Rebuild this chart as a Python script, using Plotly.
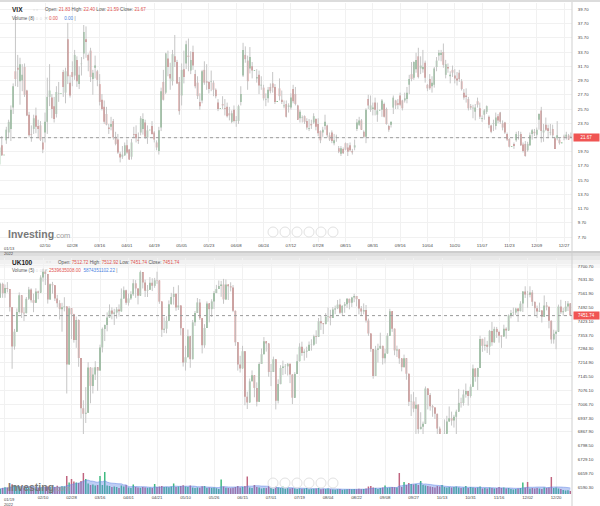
import pandas as pd
import plotly.graph_objects as go

# ---------------- VIX daily, every weekday 2022-01-13 .. 2022-12-30 ----------------
vix_open = [
    17.9, 20.6, 19.2, 21.3, 22.4, 22.9, 25.9, 31.0, 31.5, 29.6, 29.7, 31.6, 28.3,
    24.9, 22.2, 22.9, 24.8, 23.3, 23.4, 21.0, 22.4, 23.9, 27.4, 27.3, 26.1, 25.0, 27.8, 27.8, 30.9, 28.0, 35.5, 29.4, 30.9,
    30.4, 32.6, 29.2, 32.0, 33.5, 35.5, 33.3, 33.9, 29.9, 31.5, 31.0, 29.2, 27.0, 26.0, 25.0, 23.1, 23.2, 24.0, 21.8, 21.4, 19.4, 19.0, 19.2,
    20.6, 20.0, 19.0, 22.2, 22.2, 21.4, 22.4, 22.9, 23.8, 21.7, 22.7, 23.3, 22.4, 21.0, 19.8, 23.1, 29.5, 28.0, 32.8, 30.6, 29.6,
    33.1, 32.3, 29.5, 27.6, 31.3, 32.1, 33.2, 31.1, 33.7, 30.6, 29.4, 26.7, 26.9, 31.2, 29.6, 29.5, 29.5, 29.4, 28.4, 26.6, 25.7, 26.4,
    25.8, 26.0, 25.1, 23.9, 25.6, 24.0, 24.0, 26.7, 30.4, 33.3, 32.5, 31.4, 31.7, 31.1, 30.0, 30.5, 29.0, 28.7, 27.0, 27.2, 28.8, 29.3,
    28.8, 26.7, 28.6, 27.0, 26.1, 26.4, 26.0, 25.9, 28.5, 27.8, 26.2, 24.4, 24.5, 24.7, 24.0, 22.9, 23.6, 23.8, 24.3, 23.6, 22.6,
    22.4, 23.3, 23.4, 22.0, 22.4, 20.9, 21.7, 20.2, 19.4, 20.1, 20.9, 20.3, 20.6, 19.8, 20.3, 22.9, 23.5, 24.1, 22.5, 21.8, 27.1, 25.6, 25.7,
    26.6, 24.9, 25.5, 25.6, 26.4, 25.7, 23.3, 23.5, 25.9, 26.9, 26.5, 27.6, 26.9, 26.9, 27.1, 29.1, 30.6, 30.1, 31.3, 33.1, 31.4, 31.3,
    32.2, 29.1, 29.9, 28.9, 29.1, 31.6, 33.2, 33.3, 33.7, 30.5, 31.6, 30.3, 31.2, 30.4, 30.0, 30.8, 29.6, 28.0, 27.6, 27.1, 26.1,
    25.8, 25.3, 26.8, 25.8, 24.3, 24.9, 25.3, 24.6, 23.4, 23.6, 23.3, 24.7, 25.2, 23.7, 23.8, 22.2, 21.5, 20.4, 20.8, 21.3, 21.9, 22.2,
    20.7, 20.8, 19.9, 20.6, 22.2, 22.5, 22.1, 24.2, 25.5, 22.4, 23.5, 23.0, 22.4, 22.9, 21.6, 21.6, 21.4, 20.9, 21.8, 21.8, 22.0, 21.83,
]
vix_high = [
    20.9, 21.9, 19.2, 23.2, 24.2, 26.2, 29.3, 38.9, 33.3, 32.9, 32.0, 32.1, 28.4,
    25.3, 23.4, 24.9, 25.9, 24.2, 24.0, 21.6, 25.2, 30.1, 32.0, 27.8, 27.4, 28.9, 29.5, 27.8, 31.2, 31.5, 37.8, 30.5, 32.4,
    34.0, 33.1, 31.7, 33.0, 37.5, 37.3, 33.5, 34.3, 31.2, 33.2, 31.2, 30.6, 27.8, 26.9, 26.0, 23.6, 24.6, 24.3, 22.5, 22.2, 19.7, 20.5, 21.0,
    21.4, 20.1, 21.5, 23.2, 23.4, 22.4, 24.7, 25.1, 24.2, 23.4, 22.7, 24.0, 22.6, 21.3, 23.2, 28.7, 31.2, 33.6, 33.9, 32.2, 34.0,
    36.1, 32.6, 30.2, 32.1, 33.9, 35.3, 35.6, 33.8, 34.6, 31.2, 30.3, 27.9, 31.2, 32.4, 32.0, 29.6, 31.1, 29.7, 28.6, 27.1, 25.7, 27.5,
    27.1, 26.6, 26.0, 25.5, 26.2, 24.7, 26.3, 28.9, 35.0, 34.5, 33.2, 34.4, 32.3, 31.1, 31.3, 31.1, 30.3, 29.1, 27.9, 28.8, 29.3, 30.9,
    29.2, 26.7, 30.0, 28.3, 26.9, 26.9, 26.5, 27.9, 29.1, 28.8, 26.3, 25.6, 24.8, 24.8, 24.4, 24.3, 24.2, 25.1, 24.4, 24.4, 22.7,
    23.2, 24.9, 23.5, 22.4, 22.7, 22.2, 22.1, 20.5, 20.5, 20.3, 21.0, 20.9, 21.0, 20.1, 21.4, 24.3, 24.6, 24.3, 22.7, 25.8, 27.7, 27.6, 26.6,
    27.3, 26.6, 25.5, 27.1, 26.6, 25.9, 23.5, 23.9, 27.6, 27.0, 27.1, 28.0, 27.0, 28.0, 28.8, 30.5, 32.3, 32.4, 33.6, 34.3, 33.1, 34.0,
    32.5, 29.2, 30.6, 30.3, 31.6, 33.0, 34.0, 34.0, 34.9, 32.6, 32.1, 31.0, 31.8, 31.3, 30.9, 31.2, 29.9, 28.5, 28.6, 27.4, 26.4,
    26.3, 26.4, 27.3, 26.6, 24.8, 25.7, 26.2, 24.8, 23.5, 24.2, 25.2, 25.0, 25.3, 24.1, 23.9, 22.4, 21.6, 20.4, 21.0, 22.5, 22.6, 22.5,
    21.0, 21.2, 21.1, 22.4, 22.9, 22.9, 23.1, 25.1, 26.0, 23.6, 24.5, 23.5, 23.6, 23.5, 21.8, 24.0, 21.6, 20.9, 22.1, 22.5, 22.2, 22.40,
]
vix_low = [
    17.6, 19.1, 19.2, 20.8, 21.6, 21.2, 25.0, 28.9, 28.8, 26.3, 28.2, 27.4, 24.7,
    21.8, 21.1, 22.2, 22.3, 21.6, 21.2, 19.5, 21.0, 22.2, 26.1, 24.4, 23.8, 24.5, 26.7, 27.8, 27.4, 26.5, 29.2, 27.3, 28.9,
    29.8, 28.8, 28.5, 30.4, 32.7, 32.9, 31.0, 29.5, 27.7, 30.0, 28.9, 26.2, 25.5, 23.6, 23.4, 22.2, 22.7, 21.4, 20.6, 19.4, 18.2, 18.7, 19.1,
    19.4, 18.6, 18.6, 21.6, 21.0, 20.8, 22.0, 22.1, 21.5, 20.8, 22.7, 22.1, 21.0, 19.9, 19.3, 22.6, 26.9, 27.8, 30.3, 28.4, 29.0,
    31.6, 29.2, 24.9, 26.2, 29.3, 31.3, 31.0, 30.6, 31.2, 28.6, 27.1, 25.6, 26.5, 29.1, 28.4, 27.9, 28.2, 27.5, 27.2, 25.4, 25.7, 25.7,
    24.8, 24.5, 24.1, 23.7, 23.8, 23.2, 23.6, 26.2, 30.2, 32.2, 28.4, 30.7, 30.0, 31.1, 29.4, 27.8, 28.4, 26.9, 26.1, 26.6, 27.9, 28.0,
    26.4, 26.7, 26.9, 26.4, 25.8, 24.5, 25.2, 25.6, 26.5, 26.2, 24.2, 23.8, 23.8, 23.6, 22.8, 22.6, 22.9, 23.6, 22.7, 21.9, 20.9,
    21.8, 22.8, 21.7, 21.2, 20.9, 20.6, 21.1, 19.5, 19.1, 19.4, 19.9, 19.1, 19.7, 19.3, 19.9, 22.6, 23.3, 22.8, 21.6, 20.9, 25.7, 25.3, 24.8,
    24.8, 23.9, 25.5, 24.6, 24.5, 23.5, 22.5, 23.1, 25.0, 25.7, 25.7, 26.1, 25.5, 26.6, 26.5, 27.8, 29.6, 29.8, 30.8, 30.0, 30.6, 30.8,
    29.4, 28.2, 28.4, 28.0, 28.7, 31.0, 32.5, 32.4, 31.5, 30.0, 30.8, 29.3, 30.2, 29.3, 29.0, 29.5, 28.3, 27.0, 26.6, 25.5, 25.6,
    24.4, 24.1, 25.9, 24.3, 23.9, 24.2, 25.0, 23.0, 22.3, 22.6, 22.8, 23.7, 23.6, 22.7, 22.2, 21.2, 20.3, 20.4, 20.1, 21.1, 21.4, 20.5,
    19.6, 19.0, 19.7, 20.5, 21.4, 21.9, 21.8, 22.8, 21.0, 21.1, 22.6, 21.6, 22.0, 21.7, 20.1, 21.3, 20.7, 20.9, 21.3, 21.4, 21.4, 21.59,
]
vix_close = [
    20.3, 19.2, 19.2, 22.8, 23.9, 25.6, 28.9, 29.9, 31.2, 32.0, 30.5, 27.7, 24.8,
    22.0, 22.1, 24.4, 23.2, 22.9, 21.4, 20.0, 23.9, 27.4, 28.3, 25.7, 24.3, 28.1, 27.8, 27.8, 28.8, 31.0, 30.3, 27.6, 30.2,
    33.3, 29.6, 30.5, 32.0, 36.5, 35.1, 32.5, 30.2, 30.8, 31.8, 29.8, 26.7, 25.7, 23.9, 23.5, 22.9, 23.6, 21.7, 20.8, 19.6, 18.9, 19.3, 20.6,
    19.6, 18.6, 21.0, 22.1, 21.6, 21.2, 24.4, 24.3, 21.8, 22.7, 22.7, 22.2, 21.4, 20.3, 22.7, 28.2, 27.0, 33.5, 31.6, 30.0, 33.4,
    32.3, 29.3, 25.4, 31.2, 30.2, 34.8, 33.0, 32.6, 31.8, 28.9, 27.5, 26.1, 31.0, 29.4, 29.4, 28.5, 29.5, 28.4, 27.5, 25.7, 25.7, 26.2,
    25.7, 24.7, 24.8, 25.1, 24.0, 24.0, 26.1, 27.8, 34.0, 32.7, 29.6, 33.0, 31.1, 31.1, 30.2, 29.0, 29.1, 27.2, 27.0, 28.4, 28.2, 28.7,
    26.7, 26.7, 27.5, 26.7, 26.1, 24.6, 26.2, 27.3, 26.8, 26.4, 24.2, 25.3, 24.5, 23.9, 23.1, 23.0, 23.4, 24.7, 23.2, 22.3, 21.3,
    22.8, 23.9, 22.0, 21.4, 21.2, 21.3, 21.8, 19.7, 20.2, 19.5, 20.0, 19.7, 19.9, 19.6, 20.6, 23.8, 24.1, 22.8, 21.8, 25.6, 26.2, 26.2, 25.9,
    25.6, 25.5, 25.5, 26.9, 24.6, 23.6, 22.8, 23.9, 27.3, 26.2, 26.3, 26.3, 25.8, 27.2, 28.0, 29.9, 29.9, 32.3, 32.6, 30.2, 31.8, 31.6,
    30.1, 28.6, 28.6, 29.4, 31.4, 32.5, 33.6, 33.6, 31.9, 32.0, 31.4, 30.5, 30.8, 30.0, 29.7, 29.9, 28.5, 27.3, 27.4, 25.8, 25.9,
    25.8, 25.9, 26.3, 24.6, 24.4, 25.5, 26.1, 23.5, 22.5, 23.7, 24.5, 24.1, 23.9, 23.1, 22.4, 21.4, 20.4, 20.4, 20.5, 22.2, 21.9, 20.6,
    19.8, 19.1, 20.8, 22.0, 22.7, 22.3, 22.8, 25.0, 22.6, 22.7, 22.8, 22.6, 22.4, 22.0, 20.1, 22.0, 20.9, 20.9, 21.7, 22.1, 21.4, 21.67,
]
vix_tick_labels = ["01/13", "02/10", "02/28", "03/16", "04/01", "04/19", "05/05", "05/23", "06/08", "06/24",
                   "07/12", "07/28", "08/15", "08/31", "09/16", "10/04", "10/20", "11/07", "11/23", "12/09", "12/27"]
vix_y_ticks = [7.70, 9.70, 11.70, 13.70, 15.70, 17.70, 19.70, 21.70, 23.70, 25.70,
               27.70, 29.70, 31.70, 33.70, 35.70, 37.70, 39.70]

# ---------------- UK100 daily, LSE trading days 2022-01-17 .. 2022-12-30 ----------------
uk_holidays = ["2022-04-15", "2022-04-18", "2022-05-02", "2022-06-02", "2022-06-03",
               "2022-08-29", "2022-09-19", "2022-12-26", "2022-12-27"]
uk_open = [
    7543, 7611, 7564, 7590, 7585, 7494, 7297, 7371, 7470, 7554, 7466,
    7464, 7536, 7583, 7529, 7516, 7573, 7567, 7643, 7672, 7661, 7532, 7609, 7604, 7537, 7514, 7484, 7494, 7498, 7207, 7489,
    7458, 7330, 7430, 7239, 6987, 6959, 6964, 7191, 7099, 7156, 7193, 7176, 7292, 7385, 7405, 7442, 7477, 7461, 7467, 7483, 7473, 7537, 7579,
    7516, 7538, 7559, 7614, 7588, 7552, 7670, 7618, 7577, 7581, 7616, 7601, 7629, 7628, 7522, 7381, 7386, 7426, 7509,
    7545, 7561, 7493, 7503, 7388, 7217, 7243, 7348, 7233, 7418, 7465, 7518, 7438, 7303, 7390, 7513, 7484, 7523, 7565, 7585, 7600,
    7608, 7533, 7608, 7599, 7593, 7476, 7318, 7206, 7187, 7273, 7045, 7016, 7122, 7152, 7089, 7020, 7209, 7258, 7323, 7312,
    7169, 7169, 7233, 7025, 7108, 7189, 7196, 7197, 7210, 7156, 7040, 7159, 7223, 7296, 7264, 7271, 7276, 7306, 7306, 7348, 7345,
    7423, 7413, 7409, 7446, 7448, 7440, 7482, 7488, 7507, 7466, 7501, 7509, 7536, 7516, 7542, 7550, 7534, 7488, 7472, 7480, 7427, 7362,
    7284, 7149, 7281, 7287, 7300, 7238, 7262, 7351, 7473, 7386, 7277, 7282, 7237, 7193, 7238, 7160, 7019, 7021, 6985, 7005, 6882,
    6894, 6909, 7086, 7053, 6997, 6991, 6959, 6885, 6826, 6850, 6859, 6920, 6937, 6925, 6944, 6970, 7014, 7013, 7056, 7074, 7048,
    7095, 7186, 7144, 7189, 7335, 7300, 7306, 7296, 7375, 7318, 7385, 7369, 7351, 7347, 7386, 7377, 7453, 7465, 7467, 7487, 7474, 7512,
    7573, 7558, 7556, 7568, 7521, 7489, 7472, 7477, 7446, 7503, 7496, 7426, 7332, 7361, 7371, 7497, 7469, 7473, 7497, 7512.72,
]
uk_high = [
    7617, 7617, 7608, 7620, 7585, 7494, 7385, 7488, 7568, 7554, 7494,
    7545, 7596, 7589, 7562, 7589, 7577, 7654, 7687, 7680, 7661, 7613, 7621, 7604, 7556, 7529, 7516, 7544, 7498, 7499, 7489,
    7461, 7447, 7433, 7239, 7027, 7093, 7218, 7193, 7191, 7223, 7193, 7306, 7392, 7407, 7468, 7508, 7493, 7486, 7495, 7508, 7588, 7598, 7582,
    7563, 7574, 7634, 7630, 7588, 7678, 7670, 7632, 7605, 7645, 7639, 7641, 7672, 7628, 7522, 7443, 7449, 7528, 7566,
    7596, 7561, 7604, 7503, 7388, 7300, 7382, 7348, 7430, 7475, 7540, 7535, 7438, 7409, 7523, 7513, 7534, 7575, 7606, 7628, 7626,
    7636, 7633, 7608, 7619, 7605, 7476, 7318, 7250, 7300, 7273, 7070, 7136, 7177, 7152, 7117, 7218, 7287, 7344, 7323, 7312,
    7209, 7246, 7233, 7132, 7203, 7226, 7209, 7214, 7210, 7156, 7168, 7257, 7313, 7321, 7283, 7296, 7322, 7333, 7356, 7378, 7440,
    7451, 7413, 7464, 7492, 7481, 7495, 7502, 7530, 7536, 7503, 7520, 7540, 7536, 7546, 7561, 7550, 7534, 7500, 7513, 7505, 7437, 7362,
    7284, 7300, 7311, 7366, 7300, 7286, 7364, 7486, 7473, 7386, 7301, 7282, 7237, 7256, 7238, 7160, 7057, 7068, 7043, 7005, 6967,
    6920, 7096, 7086, 7063, 7004, 6991, 6959, 6895, 6850, 6931, 6949, 6996, 6970, 6954, 6980, 7084, 7040, 7080, 7111, 7074, 7107,
    7206, 7186, 7190, 7351, 7335, 7343, 7325, 7380, 7420, 7396, 7395, 7376, 7351, 7406, 7393, 7458, 7480, 7492, 7491, 7487, 7524, 7574,
    7599, 7576, 7599, 7580, 7521, 7502, 7517, 7477, 7553, 7520, 7496, 7426, 7381, 7378, 7507, 7531, 7491, 7525, 7525, 7512.92,
]
uk_low = [
    7543, 7541, 7541, 7568, 7472, 7185, 7281, 7371, 7462, 7440, 7425,
    7464, 7530, 7517, 7469, 7516, 7534, 7567, 7622, 7605, 7512, 7532, 7562, 7525, 7494, 7432, 7371, 7473, 7061, 7207, 7334,
    7316, 7290, 7195, 6936, 6770, 6913, 6964, 7012, 7061, 7129, 7074, 7176, 7267, 7324, 7373, 7442, 7433, 7405, 7437, 7447, 7473, 7537, 7506,
    7502, 7530, 7551, 7541, 7508, 7552, 7588, 7545, 7545, 7581, 7575, 7591, 7611, 7511, 7345, 7365, 7363, 7426, 7509,
    7507, 7476, 7480, 7353, 7196, 7176, 7243, 7190, 7233, 7400, 7465, 7430, 7262, 7290, 7390, 7418, 7445, 7485, 7565, 7585, 7546,
    7511, 7533, 7530, 7573, 7469, 7300, 7176, 7166, 7187, 7002, 6983, 7016, 7122, 7042, 6996, 7020, 7209, 7258, 7271, 7145,
    7098, 7169, 6981, 7011, 7108, 7153, 7158, 7151, 7113, 7008, 7040, 7159, 7223, 7250, 7226, 7240, 7276, 7276, 7300, 7310, 7345,
    7380, 7359, 7409, 7420, 7403, 7440, 7459, 7484, 7460, 7453, 7466, 7490, 7483, 7495, 7519, 7498, 7458, 7451, 7458, 7417, 7350, 7270,
    7135, 7149, 7216, 7287, 7206, 7212, 7262, 7351, 7370, 7253, 7244, 7210, 7172, 7193, 7130, 6998, 6948, 6967, 6833, 6859, 6882,
    6816, 6909, 6981, 6975, 6944, 6933, 6858, 6800, 6708, 6850, 6859, 6920, 6900, 6890, 6856, 6970, 6990, 7000, 7040, 7000, 7040,
    7095, 7120, 7078, 7189, 7270, 7276, 7264, 7255, 7300, 7314, 7340, 7316, 7290, 7347, 7336, 7377, 7438, 7448, 7455, 7420, 7474, 7470,
    7540, 7491, 7543, 7500, 7453, 7440, 7471, 7417, 7446, 7478, 7388, 7311, 7311, 7283, 7371, 7460, 7450, 7473, 7475, 7451.74,
]
uk_close = [
    7611, 7564, 7590, 7585, 7494, 7297, 7371, 7470, 7554, 7466, 7464,
    7536, 7583, 7529, 7516, 7573, 7567, 7643, 7672, 7661, 7532, 7609, 7604, 7537, 7514, 7484, 7494, 7498, 7207, 7489, 7458,
    7330, 7430, 7239, 6987, 6959, 6964, 7191, 7099, 7156, 7193, 7176, 7292, 7385, 7405, 7442, 7477, 7461, 7467, 7483, 7473, 7537, 7579, 7516,
    7538, 7559, 7614, 7588, 7552, 7670, 7618, 7577, 7581, 7616, 7601, 7629, 7628, 7522, 7381, 7386, 7426, 7509, 7545,
    7561, 7493, 7503, 7388, 7217, 7243, 7348, 7233, 7418, 7465, 7518, 7438, 7303, 7390, 7513, 7484, 7523, 7565, 7585, 7600, 7608,
    7533, 7608, 7599, 7593, 7476, 7318, 7206, 7187, 7273, 7045, 7016, 7122, 7152, 7089, 7020, 7209, 7258, 7323, 7312, 7169,
    7169, 7233, 7025, 7108, 7189, 7196, 7197, 7210, 7156, 7040, 7159, 7223, 7296, 7264, 7271, 7276, 7306, 7306, 7348, 7345, 7423,
    7413, 7409, 7446, 7448, 7440, 7482, 7488, 7507, 7466, 7501, 7509, 7536, 7516, 7542, 7550, 7534, 7488, 7472, 7480, 7427, 7362, 7284,
    7149, 7281, 7287, 7300, 7238, 7262, 7351, 7473, 7386, 7277, 7282, 7237, 7193, 7238, 7160, 7019, 7021, 6985, 7005, 6882, 6894,
    6909, 7086, 7053, 6997, 6991, 6959, 6885, 6826, 6850, 6859, 6920, 6937, 6925, 6944, 6970, 7014, 7013, 7056, 7074, 7048, 7095,
    7186, 7144, 7189, 7335, 7300, 7306, 7296, 7375, 7318, 7385, 7369, 7351, 7347, 7386, 7377, 7453, 7465, 7467, 7487, 7474, 7512, 7573,
    7558, 7556, 7568, 7521, 7489, 7472, 7477, 7446, 7503, 7496, 7426, 7332, 7361, 7371, 7497, 7469, 7473, 7497, 7513, 7451.74,
]
uk_volume = [  # millions of shares
    520, 610, 680, 640, 760, 980, 870, 800, 760, 690, 580,
    620, 660, 700, 640, 560, 600, 650, 720, 690, 760, 700, 640, 690, 820, 700, 780, 760, 1800, 1150, 1500,
    1250, 1150, 1100, 1300, 2100, 1500, 1050, 900, 950, 850, 900, 1800, 900, 2200, 850, 800, 700, 750, 700, 600, 850, 750, 900,
    650, 600, 950, 700, 650, 620, 700, 650, 620, 640, 600, 1000, 700, 750, 800, 700, 720, 680, 750,
    1050, 700, 750, 800, 880, 750, 700, 850, 650, 600, 650, 620, 780, 800, 600, 650, 620, 640, 580, 500, 1450,
    750, 620, 600, 580, 620, 700, 800, 650, 700, 800, 1750, 650, 600, 900, 700, 650, 550, 600, 600, 780,
    600, 500, 750, 650, 600, 780, 550, 580, 560, 600, 550, 500, 560, 520, 540, 600, 480, 500, 520, 550, 600,
    480, 520, 500, 560, 480, 450, 430, 480, 500, 420, 450, 480, 500, 470, 500, 480, 520, 480, 500, 560, 750, 800,
    650, 600, 500, 600, 650, 850, 620, 640, 700, 680, 650, 2100, 700, 1200, 900, 1100, 1000, 950, 1000, 900, 1300,
    900, 850, 800, 750, 700, 650, 800, 750, 900, 700, 650, 700, 650, 700, 750, 650, 600, 650, 800, 600, 700,
    650, 600, 650, 750, 550, 600, 550, 650, 600, 550, 600, 700, 600, 650, 550, 600, 500, 450, 500, 550, 600, 1150,
    650, 1200, 550, 600, 550, 600, 550, 500, 650, 600, 650, 1700, 600, 650, 550, 500, 400, 350, 380, 300,
]
uk_tick_labels = ["01/19", "02/10", "02/28", "03/16", "04/01", "04/21", "05/10", "05/26", "06/15", "07/01",
                  "07/19", "08/04", "08/22", "09/08", "09/27", "10/13", "10/31", "11/16", "12/02", "12/20"]
uk_y_ticks = [6590.30, 6659.70, 6729.10, 6798.50, 6867.90, 6937.30, 7006.70, 7076.10, 7145.50,
              7214.90, 7284.30, 7353.70, 7423.10, 7492.50, 7561.90, 7631.30, 7700.70]

# ---------------- dates ----------------
vix_dates = [d.strftime("%Y-%m-%d") for d in pd.bdate_range("2022-01-13", "2022-12-30")]
uk_dates = [d.strftime("%Y-%m-%d") for d in pd.bdate_range("2022-01-17", "2022-12-30")
            if d.strftime("%Y-%m-%d") not in uk_holidays]
assert len(vix_dates) == len(vix_open) == len(vix_high) == len(vix_low) == len(vix_close)
assert len(uk_dates) == len(uk_open) == len(uk_high) == len(uk_low) == len(uk_close) == len(uk_volume)

UP = "#55a163"
DOWN = "#c4504e"
WICK = "#c6c6c6"
FONT = "Arial, Liberation Sans, sans-serif"
W, H = 600, 506
XR = 572  # right edge of plot area (px)


def py(px):
    return 1 - px / H


def candles(dates, o, h, l, c, xa, ya, eps):
    wx, wy = [], []
    for d, hi, lo in zip(dates, h, l):
        wx += [d, d, None]
        wy += [lo, hi, None]
    wick = go.Scatter(x=wx, y=wy, mode="lines", line=dict(color=WICK, width=1),
                      xaxis=xa, yaxis=ya, hoverinfo="skip", showlegend=False)
    body = go.Bar(x=dates, y=[max(abs(cc - oo), eps) for oo, cc in zip(o, c)],
                  base=[min(oo, cc) for oo, cc in zip(o, c)],
                  marker=dict(color=[UP if cc >= oo else DOWN for oo, cc in zip(o, c)], line=dict(width=0)),
                  width=0.62, xaxis=xa, yaxis=ya, showlegend=False)
    return [wick, body]


fig = go.Figure()
for t in candles(vix_dates, vix_open, vix_high, vix_low, vix_close, "x", "y", 0.08):
    fig.add_trace(t)
for t in candles(uk_dates, uk_open, uk_high, uk_low, uk_close, "x2", "y2", 1.5):
    fig.add_trace(t)

vol_ma = pd.Series(uk_volume).rolling(10, min_periods=1).mean()
fig.add_trace(go.Bar(x=uk_dates, y=uk_volume, width=0.62,
                     marker=dict(color=["#3dba7e" if cc >= oo else "#c0647f" for oo, cc in zip(uk_open, uk_close)],
                                 line=dict(width=0)),
                     xaxis="x2", yaxis="y3", showlegend=False))
fig.add_trace(go.Scatter(x=uk_dates, y=vol_ma, mode="lines", line=dict(color="rgba(100,135,230,0.5)", width=1, shape="spline"),
                         fill="tozeroy", fillcolor="rgba(100,135,230,0.42)", xaxis="x2", yaxis="y3",
                         hoverinfo="skip", showlegend=False))

# ---------------- axes ----------------
vix_top, vix_bot = 3, 242
uk_top, uk_bot = 258, 494
vix_tickvals = ["2022-" + t.replace("/", "-") for t in vix_tick_labels]
uk_tickvals = ["2022-" + t.replace("/", "-") for t in uk_tick_labels]

xcommon = dict(type="category", showgrid=True, gridcolor="#f1f1f1", gridwidth=1, zeroline=False,
               showline=False, ticks="", tickfont=dict(size=4.3, color="#444", family=FONT),
               domain=[0, XR / W], fixedrange=True)
ycommon = dict(side="right", showgrid=True, gridcolor="#f1f1f1", zeroline=False, showline=False,
               ticks="outside", ticklen=4, tickcolor="rgba(0,0,0,0)",
               tickfont=dict(size=4.3, color="#444", family=FONT), fixedrange=True)

fig.update_layout(
    width=W, height=H, margin=dict(l=0, r=0, t=0, b=0), autosize=False,
    paper_bgcolor="white", plot_bgcolor="white", barmode="overlay", showlegend=False,
    font=dict(family=FONT),
    xaxis=dict(**xcommon, anchor="y", range=[0.22, 251.5],
               tickvals=vix_tickvals, ticktext=[""] + vix_tick_labels[1:]),
    yaxis=dict(**ycommon, anchor="x", domain=[py(vix_bot), py(vix_top)], range=[7.02, 40.59],
               tickvals=vix_y_ticks,
               ticktext=["" if abs(v - 21.70) < 1e-9 else "%.2f" % v for v in vix_y_ticks]),
    xaxis2=dict(**xcommon, anchor="y2", range=[-0.1, 240.7],
                tickvals=uk_tickvals, ticktext=[""] + uk_tick_labels[1:]),
    yaxis2=dict(**ycommon, anchor="x2", domain=[py(uk_bot), py(uk_top)], range=[6556.7, 7740.8],
                tickvals=uk_y_ticks, ticktext=["%.2f" % v for v in uk_y_ticks]),
    yaxis3=dict(anchor="x2", domain=[py(uk_bot), py(uk_bot - 60)], range=[0, 6000], visible=False, fixedrange=True),
)

shapes = []
annots = []
# panel chrome
shapes.append(dict(type="rect", xref="paper", yref="paper", x0=0, x1=1, y0=py(2), y1=1,
                   fillcolor="#dcdcdc", line=dict(width=0), layer="below"))
for y0, y1, col in [(251, 253, "#cdcdcd"), (253, 256, "#dedede"), (256, 260, "#e9e9e9"),
                    (260, 264, "#f1f1f1"), (264, 268, "#f8f8f8")]:
    shapes.append(dict(type="rect", xref="paper", yref="paper", x0=0, x1=1, y0=py(y1), y1=py(y0),
                       fillcolor=col, line=dict(width=0), layer="below"))
shapes.append(dict(type="line", xref="paper", yref="paper", x0=XR / W, x1=XR / W, y0=py(251), y1=py(2),
                   line=dict(color="#cfcfcf", width=1)))
shapes.append(dict(type="line", xref="paper", yref="paper", x0=XR / W, x1=XR / W, y0=0, y1=py(253),
                   line=dict(color="#cfcfcf", width=1)))

# last price lines + tags
for yref, val, txt in [("y", vix_close[-1], "21.67"), ("y2", uk_close[-1], "7451.74")]:
    shapes.append(dict(type="line", xref="paper", yref=yref, x0=0, x1=XR / W, y0=val, y1=val,
                       line=dict(color="#9a9a9a", width=1, dash="dot")))
    annots.append(dict(xref="paper", yref=yref, x=(XR + 1) / W, y=val, xanchor="left", yanchor="middle",
                       text=txt, showarrow=False, bgcolor="#f05553", width=25, height=7, borderpad=0,
                       font=dict(size=4.5, color="white", family=FONT), align="center"))

# first x tick labels (kept inside the chart)
annots.append(dict(xref="paper", yref="paper", x=2 / W, y=py(244), xanchor="left", yanchor="top",
                   text="01/13<br>2022", showarrow=False, align="left",
                   font=dict(size=4.1, color="#444", family=FONT)))
annots.append(dict(xref="paper", yref="paper", x=2 / W, y=py(495), xanchor="left", yanchor="top",
                   text="01/19<br>2022", showarrow=False, align="left",
                   font=dict(size=4.1, color="#444", family=FONT)))

# headers
RED = "#e0524f"
BLUE = "#4a7fe0"


def header(ytop, name, o, h, l, c, v1, v2, vname):
    annots.append(dict(xref="paper", yref="paper", x=10 / W, y=py(ytop), xanchor="left", yanchor="middle",
                       text="<b>%s</b>" % name, showarrow=False, font=dict(size=6.5, color="#222", family=FONT)))
    line1 = ("Open: <span style='color:%s'>%s</span> High: <span style='color:%s'>%s</span> "
             "Low: <span style='color:%s'>%s</span> Close: <span style='color:%s'>%s</span>"
             % (RED, o, RED, h, RED, l, RED, c))
    annots.append(dict(xref="paper", yref="paper", x=(12 + 6.3 * len(name) + 12) / W, y=py(ytop), xanchor="left",
                       yanchor="middle", text=line1, showarrow=False, font=dict(size=4.6, color="#555", family=FONT)))
    annots.append(dict(xref="paper", yref="paper", x=(12 + 6.3 * len(name)) / W, y=py(ytop), xanchor="left",
                       yanchor="middle", text="○ ○", showarrow=False, font=dict(size=3.5, color="#c8c8c8", family=FONT)))
    line2 = ("%s <span style='color:#c8c8c8'>○ ○ ✕</span> <span style='color:%s'>%s</span>"
             "  <span style='color:%s'>%s</span> <span style='color:#777'>|</span>" % (vname, RED, v1, BLUE, v2))
    annots.append(dict(xref="paper", yref="paper", x=10 / W, y=py(ytop + 8.5), xanchor="left", yanchor="middle",
                       text=line2, showarrow=False, font=dict(size=4.6, color="#555", family=FONT)))


header(10, "VIX", "21.83", "22.40", "21.59", "21.67", "0.00", "   0.00", "Volume (8)")
header(262, "UK100", "7512.72", "7512.92", "7451.74", "7451.74", "2539635008.00", "5874351102.22", "Volume (5)")

# watermark + navigation buttons
for yc in (234, 487):
    annots.append(dict(xref="paper", yref="paper", x=6 / W, y=py(yc), xanchor="left", yanchor="middle",
                       text="<b>Investing</b><span style='color:#a0a0a0;font-size:7.5px'>.com</span>",
                       showarrow=False, font=dict(size=10.5, color="#787878", family=FONT)))
for yc in (232, 483):
    for xc in (273, 285, 297, 309, 321, 333):
        shapes.append(dict(type="circle", xref="paper", yref="paper", x0=(xc - 5) / W, x1=(xc + 5) / W,
                           y0=py(yc + 5), y1=py(yc - 5), line=dict(color="#e2e2e2", width=1),
                           fillcolor="rgba(255,255,255,0.5)"))

fig.update_layout(shapes=shapes, annotations=annots)
fig.write_html("out.html", config={"displayModeBar": False, "staticPlot": True},
               post_script="document.body.style.margin='0';document.body.style.padding='0';")
